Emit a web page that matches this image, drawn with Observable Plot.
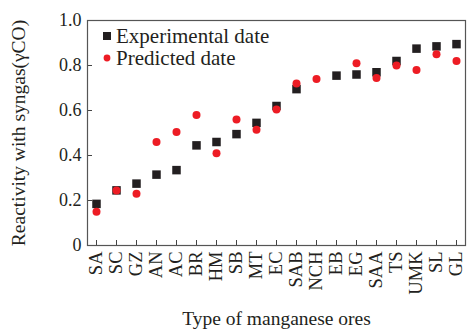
<!DOCTYPE html>
<html>
<head>
<meta charset="utf-8">
<script src="https://cdn.jsdelivr.net/npm/d3@7"></script>
<script src="https://cdn.jsdelivr.net/npm/@observablehq/plot@0.6"></script>
<style>
  html, body { margin: 0; padding: 0; background: #fff; }
  #wrap { position: relative; width: 467px; height: 330px; }
  #legend { position: absolute; left: 101px; top: 25px; font-family: "Liberation Serif", "Times New Roman", serif; font-size: 21px; color: #231f20; line-height: 22px; }
  #legend div { display: flex; align-items: center; white-space: nowrap; }
  #legend svg { margin-right: 3px; }
  g[aria-label="x-axis label"] text, g[aria-label="y-axis label"] text { font-size: 19.5px; }
</style>
</head>
<body>
<div id="wrap"><div id="chart"></div><div id="legend"></div></div>
<script>
const categories = ["SA","SC","GZ","AN","AC","BR","HM","SB","MT","EC","SAB","NCH","EB","EG","SAA","TS","UMK","SL","GL"];
const experimental = [0.185,0.245,0.275,0.315,0.335,0.445,0.46,0.495,0.545,0.62,0.695,null,0.755,0.76,0.77,0.82,0.875,0.885,0.895];
const predicted = [0.15,0.245,0.23,0.46,0.505,0.58,0.41,0.56,0.515,0.605,0.72,0.74,null,0.81,0.745,0.80,0.78,0.85,0.82];
const yTicks = [0, 0.2, 0.4, 0.6, 0.8, 1.0];
const seriesNames = ["Experimental date", "Predicted date"];

const black = "#231f20", red = "#ed1c24";
const expData = categories.map((c, i) => ({cat: c, v: experimental[i]})).filter(d => d.v != null);
const preData = categories.map((c, i) => ({cat: c, v: predicted[i]})).filter(d => d.v != null);

const W = 467, H = 330, mt = 20, mr = 2, mb = 85, ml = 87;

const chart = Plot.plot({
  width: W, height: H,
  marginTop: mt, marginRight: mr, marginBottom: mb, marginLeft: ml,
  style: {fontFamily: "'Liberation Serif', 'Times New Roman', serif", fontSize: "18px", color: black, background: "#fff"},
  x: {type: "point", domain: categories, padding: 0.45},
  y: {domain: [0, 1]},
  marks: [
    Plot.axisX({tickSize: 0, tickPadding: 6, tickRotate: -90, fontSize: 18.5,
      label: "Type of manganese ores", labelAnchor: "center", labelOffset: 79, labelArrow: "none"}),
    Plot.axisY({ticks: yTicks, tickSize: 0, tickPadding: 6, fontSize: 18,
      tickFormat: d => d === 0 ? "0" : d.toFixed(1),
      label: "Reactivity with syngas(γCO)", labelAnchor: "center", labelOffset: 76, labelArrow: "none"}),
    Plot.tickX(categories, {x: d => d, stroke: "#444", strokeWidth: 1, insetTop: H - mt - mb - 5}),
    Plot.tickY(yTicks, {y: d => d, stroke: "#444", strokeWidth: 1, insetRight: W - ml - mr - 5}),
    Plot.frame({stroke: "#555", strokeWidth: 1.2}),
    Plot.dot(expData, {x: "cat", y: "v", symbol: "square", r: 4.8, fill: black, stroke: "none"}),
    Plot.dot(preData, {x: "cat", y: "v", symbol: "circle", r: 4, fill: red, stroke: "none"})
  ]
});
document.getElementById("chart").appendChild(chart);

const legend = document.getElementById("legend");
legend.innerHTML =
  `<div><svg width="12" height="12"><rect x="2" y="2" width="8" height="8" fill="${black}"/></svg>${seriesNames[0]}</div>` +
  `<div><svg width="12" height="12"><circle cx="6" cy="6" r="3.4" fill="${red}"/></svg>${seriesNames[1]}</div>`;
</script>
</body>
</html>
